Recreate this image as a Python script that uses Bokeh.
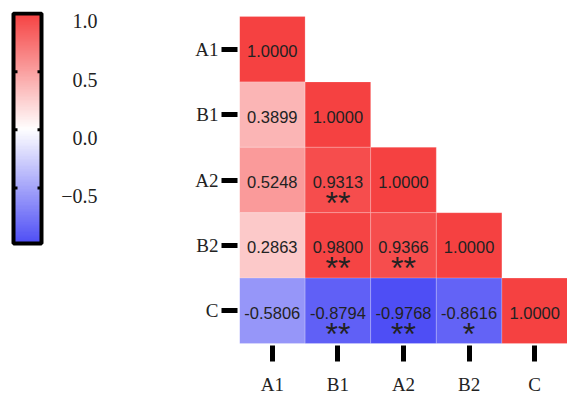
import numpy as np
from bokeh.plotting import figure
from bokeh.models import FactorRange, Range1d, LinearColorMapper, ColumnDataSource
from bokeh.layouts import row
from bokeh.core.properties import value
from bokeh.embed import file_html
from bokeh.resources import INLINE

# ---------------- data ----------------
variables = ["A1", "B1", "A2", "B2", "C"]
corr_A1 = [1.0000]
corr_B1 = [0.3899, 1.0000]
corr_A2 = [0.5248, 0.9313, 1.0000]
corr_B2 = [0.2863, 0.9800, 0.9366, 1.0000]
corr_C = [-0.5806, -0.8794, -0.9768, -0.8616, 1.0000]
sig_A1 = [""]
sig_B1 = ["", ""]
sig_A2 = ["", "**", ""]
sig_B2 = ["", "**", "**", ""]
sig_C = ["", "**", "**", "*", ""]
cbar_ticks = [-0.5, 0.0, 0.5, 1.0]
cbar_tick_labels = ["\u22120.5", "0.0", "0.5", "1.0"]
cbar_low = -0.9768
cbar_high = 1.0

corr_rows = [corr_A1, corr_B1, corr_A2, corr_B2, corr_C]
sig_rows = [sig_A1, sig_B1, sig_A2, sig_B2, sig_C]

# ---------------- colour map ----------------
neg_c = np.array([75, 75, 245])
mid_c = np.array([255, 255, 255])
pos_c = np.array([245, 65, 65])
palette = []
for t in np.linspace(-1, 1, 256):
    c = mid_c + (abs(t)) * ((pos_c if t >= 0 else neg_c) - mid_c)
    palette.append("#%02x%02x%02x" % tuple(int(round(v)) for v in c))
mapper = LinearColorMapper(palette=palette, low=-1, high=1)

SERIF = value("Liberation Serif")
SANS = value("Liberation Sans")

H = 397
BORDER_TOP = 11
BORDER_BOTTOM = 47

# ---------------- colour bar figure ----------------
px_per_unit = 117.0
zero_px = 130.0
top_val = (zero_px - BORDER_TOP) / px_per_unit
bot_val = (zero_px - (H - BORDER_BOTTOM)) / px_per_unit
cb = figure(width=178, height=H, x_range=Range1d(0, 178), y_range=Range1d(bot_val, top_val),
            output_backend="svg", toolbar_location=None, min_border_left=0, min_border_right=0,
            min_border_top=BORDER_TOP, min_border_bottom=BORDER_BOTTOM)
cb.axis.visible = False
cb.grid.visible = False
cb.outline_line_color = None
grad = np.linspace(cbar_low, cbar_high, 300).reshape(300, 1)
cb.image(image=[grad], x=13, y=cbar_low, dw=28, dh=cbar_high - cbar_low, color_mapper=mapper)
cb.quad(left=[13], right=[41], bottom=[cbar_low], top=[cbar_high], fill_color=None,
        line_color="black", line_width=4)
inner_ticks = [t for t in cbar_ticks if t < cbar_high]
cb.segment(x0=[13] * len(inner_ticks), x1=[17] * len(inner_ticks), y0=inner_ticks, y1=inner_ticks,
           line_color="black", line_width=3)
cb.segment(x0=[37] * len(inner_ticks), x1=[41] * len(inner_ticks), y0=inner_ticks, y1=inner_ticks,
           line_color="black", line_width=3)
cb.text(x=[97] * len(cbar_ticks), y=cbar_ticks, text=cbar_tick_labels, text_align="right",
        text_baseline="middle", y_offset=8, text_font=SERIF, text_font_size="20px",
        text_color="#222222")

# ---------------- heatmap figure ----------------
xs, ys, vals, labels, stars = [], [], [], [], []
for i, (rv, sv) in enumerate(zip(corr_rows, sig_rows)):
    for j, (v, s) in enumerate(zip(rv, sv)):
        xs.append(variables[j])
        ys.append(variables[i])
        vals.append(v)
        labels.append("%.4f" % v)
        stars.append(s)
src = ColumnDataSource(dict(x=xs, y=ys, v=vals, label=labels, star=stars))

p = figure(width=389, height=H, x_range=FactorRange(*variables),
           y_range=FactorRange(*variables[::-1]), output_backend="svg", toolbar_location=None,
           min_border_left=61, min_border_right=0, min_border_top=BORDER_TOP,
           min_border_bottom=BORDER_BOTTOM)
p.x_range.range_padding = 0
p.y_range.range_padding = 0.076
p.y_range.range_padding_units = "absolute"
p.grid.visible = False
p.outline_line_color = None
p.rect(x="x", y="y", width=1, height=1, source=src,
       fill_color={"field": "v", "transform": mapper}, line_color="white", line_alpha=0.2,
       line_width=1)
p.text(x="x", y="y", text="label", source=src, text_align="center", text_baseline="middle",
       text_font=SANS, text_font_size="16.5px", text_color="#222222", y_offset=2)
p.text(x="x", y="y", text="star", source=src, text_align="center", text_baseline="middle",
       text_font=SANS, text_font_size="32px", text_color="#222222", y_offset=23)

for ax in (p.xaxis[0], p.yaxis[0]):
    ax.axis_line_color = None
    ax.major_tick_line_color = "black"
    ax.major_tick_line_width = 5
    ax.major_label_text_font = "Liberation Serif"
    ax.major_label_text_font_size = "19px"
    ax.major_label_text_color = "#222222"
p.yaxis.major_tick_out = 18
p.yaxis.major_tick_in = -2
p.yaxis.major_label_standoff = 3
p.xaxis.major_tick_out = 13
p.xaxis.major_tick_in = 3
p.xaxis.major_label_standoff = 12

layout = row(cb, p)
open("out.html", "w").write(file_html(layout, INLINE))
